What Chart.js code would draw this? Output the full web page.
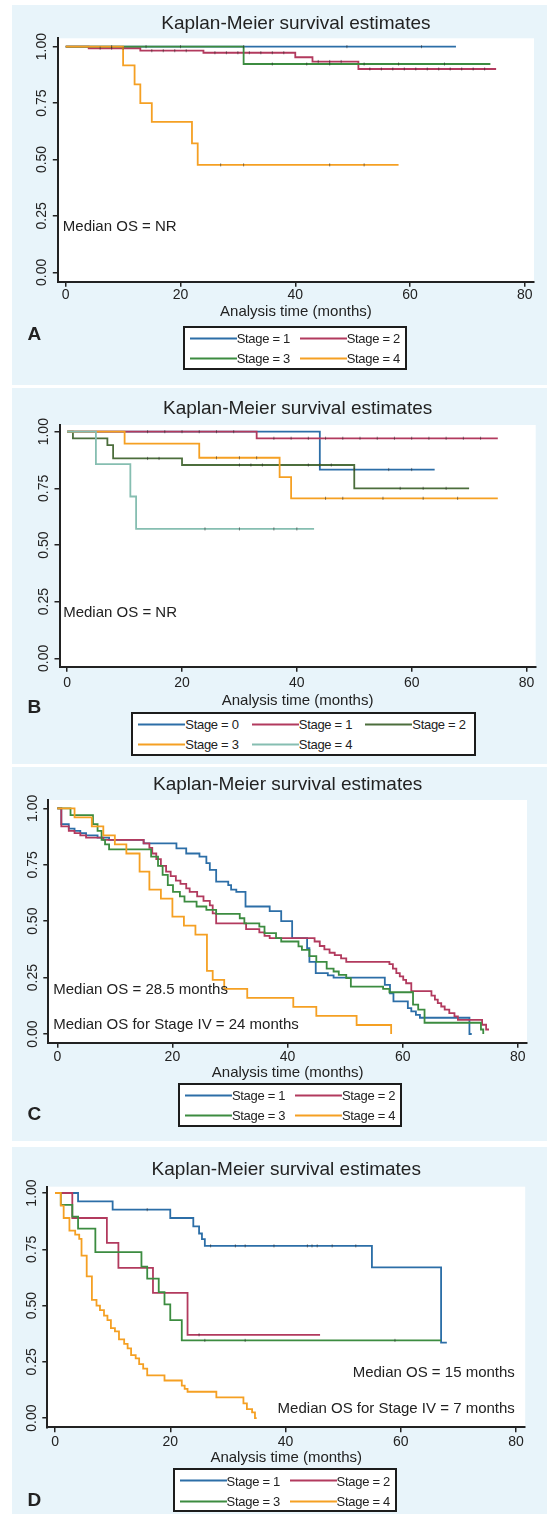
<!DOCTYPE html>
<html>
<head>
<meta charset="utf-8">
<script src="https://cdn.jsdelivr.net/npm/chart.js@4.4.1/dist/chart.umd.min.js"></script>
<style>
  html, body { margin: 0; padding: 0; background: #fff; }
  body { width: 549px; height: 1514px; position: relative; overflow: hidden;
         font-family: "Liberation Sans", Arial, sans-serif; color: #222; }
  .panel { position: absolute; left: 12px; width: 535px; background: #e8f4fa; }
  .panel canvas { position: absolute; left: 0; top: 0; }
  .letter { position: absolute; font-weight: bold; font-size: 19px; line-height: 1;
            transform: translate(-50%, -50%); }
  .key { position: absolute; box-sizing: border-box; border: 2px solid #1c1c1c; background: #fff; }
  .key .item { position: absolute; display: flex; align-items: center; font-size: 13px;
               letter-spacing: -0.3px; line-height: 1; white-space: nowrap; transform: translateY(-50%); }
  .key .swatch { display: inline-block; width: 47px; height: 2px; }
</style>
</head>
<body>
<script>
const chartTitle = "Kaplan-Meier survival estimates";
const xAxisTitle = "Analysis time (months)";
const xTicks = [0, 20, 40, 60, 80];
const yTicks = [0, 0.25, 0.5, 0.75, 1];

// A
const stagesA = ["Stage = 1", "Stage = 2", "Stage = 3", "Stage = 4"];
const a1 = [[0,1],[68,1]];
const a2 = [[0,1],[4,0.993],[13,0.982],[24,0.973],[40,0.953],[43,0.934],[51,0.901],[75,0.901]];
const a3 = [[0,1],[31,0.923],[74,0.923]];
const a4 = [[0,1],[10,0.917],[12,0.833],[13,0.75],[15,0.667],[22,0.571],[23,0.476],[58,0.476]];
// censoring times
const a1Cens = [14, 31, 49, 62];
const a2Cens = [6, 8, 10, 15, 17, 19, 21, 26, 28, 30, 32, 34, 36, 38, 44, 46, 48, 53, 55, 57, 59, 61, 63, 65, 67, 69, 71, 73];
const a3Cens = [8, 20, 36, 42, 46, 52, 58, 66];
const a4Cens = [27, 31, 46, 52];
const notesA = ["Median OS = NR"];

// B
const stagesB = ["Stage = 0", "Stage = 1", "Stage = 2", "Stage = 3", "Stage = 4"];
const b0 = [[0,1],[44,0.833],[64,0.833]];
const b1 = [[0,1],[33,0.971],[75,0.971]];
const b2 = [[0,1],[1,0.971],[7,0.941],[8,0.882],[20,0.853],[50,0.75],[70,0.75]];
const b3 = [[0,1],[10,0.947],[23,0.885],[37,0.80],[39,0.706],[75,0.706]];
const b4 = [[0,1],[5,0.857],[11,0.714],[12,0.571],[43,0.571]];
const b0Cens = [50, 56, 60];
const b1Cens = [14, 17, 20, 23, 26, 29, 36, 39, 42, 45, 48, 51, 54, 57, 60, 63, 66, 69, 72];
const b2Cens = [14, 16, 30, 32, 34, 42, 44, 46, 58, 62, 66];
const b3Cens = [26, 30, 33, 45, 48, 55, 62, 68];
const b4Cens = [24, 30, 36, 40];
const notesB = ["Median OS = NR"];

// C
const stagesC = ["Stage = 1", "Stage = 2", "Stage = 3", "Stage = 4"];
const c1 = [[0,1],[0.7,0.93],[2,0.91],[3,0.9],[4,0.89],[5,0.88],[7,0.87],[9,0.86],[15,0.845],[20.7,0.823],
  [22.4,0.80],[24.7,0.786],[25.9,0.757],[26.5,0.727],[27.6,0.675],[29.7,0.66],[30.2,0.64],[31.1,0.63],
  [32.7,0.565],[36.9,0.545],[38.9,0.50],[40.8,0.425],[43.4,0.38],[43.8,0.32],[44.9,0.27],[47,0.26],
  [48,0.25],[56.9,0.218],[57.8,0.18],[58.4,0.145],[60.9,0.115],[61.5,0.10],[62.3,0.085],[63,0.072],
  [71.6,0],[72,0]];
const c2 = [[0,1],[0.7,0.92],[2,0.90],[3,0.89],[4,0.88],[5,0.87],[8,0.86],[15,0.845],[16,0.825],
  [16.5,0.80],[17.2,0.775],[18,0.745],[18.9,0.72],[19.7,0.70],[20.6,0.68],[21.4,0.665],[22.4,0.645],
  [23,0.63],[24.3,0.61],[25.4,0.59],[26.5,0.57],[27,0.535],[27.6,0.49],[32.8,0.465],[35.1,0.45],
  [36,0.435],[36.9,0.425],[44.7,0.41],[45.6,0.39],[46.4,0.375],[47.3,0.36],[48.2,0.35],[49.3,0.335],
  [50.2,0.32],[57.7,0.31],[58.3,0.29],[58.9,0.27],[59.5,0.255],[60.1,0.24],[60.6,0.225],[61.5,0.19],
  [65,0.17],[65.6,0.152],[66.1,0.137],[66.7,0.122],[67.3,0.108],[68.1,0.093],[69,0.078],[69.6,0.063],
  [73.8,0.041],[74.5,0.02],[75,0.02]];
const c3 = [[0,1],[2.3,0.97],[6.2,0.93],[7,0.90],[7.7,0.86],[8.3,0.84],[9,0.818],[16.3,0.786],
  [17.5,0.745],[18.3,0.705],[19.2,0.66],[20.1,0.63],[21.3,0.61],[22.1,0.587],[24.2,0.565],[25.9,0.55],
  [27.6,0.532],[31.7,0.513],[32.5,0.49],[35.1,0.476],[36,0.447],[38,0.425],[38.9,0.41],[41.9,0.388],
  [42.5,0.373],[43.8,0.345],[45,0.32],[46.8,0.29],[48,0.277],[48.9,0.262],[50.2,0.248],[51,0.21],
  [56.6,0.2],[57.7,0.185],[61.8,0.13],[62.7,0.108],[63.8,0.05],[73.6,0.02],[74,0]];
const c4 = [[0,1],[3,0.96],[6,0.92],[8,0.88],[10,0.84],[12,0.80],[14.3,0.72],[16,0.64],[18,0.60],
  [20,0.52],[22,0.48],[24,0.44],[26,0.28],[27,0.24],[29,0.20],[33,0.16],[41,0.12],[45,0.08],
  [52,0.04],[58,0]];
const notesC = ["Median OS = 28.5 months", "Median OS for Stage IV = 24 months"];

// D
const stagesD = ["Stage = 1", "Stage = 2", "Stage = 3", "Stage = 4"];
const d1 = [[0,1],[4,0.963],[10,0.926],[20,0.889],[24,0.852],[25,0.82],[25.5,0.795],[26,0.765],
  [55,0.67],[67,0.335],[68,0.335]];
const d2 = [[0,1],[3,0.889],[9,0.778],[11,0.667],[17,0.556],[23,0.37],[46,0.37]];
const d3 = [[0,1],[1,0.947],[3,0.895],[4,0.842],[7,0.737],[15,0.673],[16,0.62],[18,0.56],[19,0.505],
  [20,0.435],[22,0.345],[67,0.345]];
const d4 = [[0,1],[1,0.944],[1.5,0.889],[2.5,0.833],[3.5,0.815],[4.2,0.796],[4.6,0.722],[5.5,0.63],
  [6.4,0.525],[7.2,0.5],[7.8,0.48],[8.5,0.455],[9.1,0.435],[9.7,0.40],[10.4,0.385],[11.1,0.35],
  [12,0.33],[12.6,0.31],[13.2,0.28],[14,0.265],[14.6,0.24],[15.3,0.22],[16,0.19],[19,0.167],
  [22,0.144],[22.5,0.13],[23,0.117],[28,0.092],[32.7,0.065],[33.3,0.04],[34.2,0.025],[34.7,0],[35,0]];
const d1Cens = [16, 27, 31.3, 33, 38, 43.8, 44.6, 45.5, 48.1, 52.2];
const d2Cens = [25];
const d3Cens = [26, 33, 59];
const notesD = ["Median OS = 15 months", "Median OS for Stage IV = 7 months"];

const ink = "#222";
const family = '"Liberation Sans", Arial, sans-serif';
const blue = "#2c6ea7", maroon = "#b23a5e", green = "#3c8c40", orange = "#f5a023",
      dkgreen = "#4c6e3c", teal = "#86beb1";

// layout of each panel (page px / canvas px)
const panels = [
  { letter: "A", top: 5, height: 380, area: {l: 45.8, t: 33.3, r: 522, b: 276.7},
    x: [-1.38, 81.6], y: [-0.0417, 1.037], titleY: 19, tickPad: 0, scaleH: 39.6,
    series: [a1, a2, a3, a4], cens: [a1Cens, a2Cens, a3Cens, a4Cens], names: stagesA,
    colors: [blue, maroon, green, orange],
    notes: [{text: notesA[0], x: -0.5, y: 0.2, align: "left"}],
    key: {left: 182.7, top: 325.7, w: 224.6, h: 44.3, cols: 2, pitch: 110}, mark: {x: 34.3, y: 333.3} },
  { letter: "B", top: 388, height: 376, area: {l: 47.5, t: 37, r: 523.7, b: 278.7},
    x: [-1.34, 81.6], y: [-0.037, 1.0296], titleY: 20.3, tickPad: 3.3, scaleH: 43,
    series: [b0, b1, b2, b3, b4], cens: [b0Cens, b1Cens, b2Cens, b3Cens, b4Cens], names: stagesB,
    colors: [blue, maroon, dkgreen, orange, teal],
    notes: [{text: notesB[0], x: -0.7, y: 0.2, align: "left"}],
    key: {left: 131.3, top: 711.7, w: 345, h: 44.3, cols: 3, pitch: 113.5}, mark: {x: 34.3, y: 705.7} },
  { letter: "C", top: 767, height: 374, area: {l: 36.3, t: 33, r: 515, b: 275.7},
    x: [-1.56, 81.6], y: [-0.0385, 1.037], titleY: 18, tickPad: 0.6, scaleH: 39.6,
    series: [c1, c2, c3, c4], cens: [[], [], [], []], names: stagesC,
    colors: [blue, maroon, green, orange],
    notes: [{text: notesC[0], x: -0.7, y: 0.195, align: "left"},
            {text: notesC[1], x: -0.7, y: 0.04, align: "left"}],
    key: {left: 177.9, top: 1082.7, w: 224.1, h: 44, cols: 2, pitch: 110}, mark: {x: 34.3, y: 1113.3} },
  { letter: "D", top: 1147, height: 367, area: {l: 35.3, t: 39.7, r: 513.2, b: 280.3},
    x: [-1.34, 81.6], y: [-0.041, 1.028], titleY: 23, tickPad: 1, scaleH: 40,
    series: [d1, d2, d3, d4], cens: [d1Cens, d2Cens, d3Cens, []], names: stagesD,
    colors: [blue, maroon, green, orange],
    notes: [{text: notesD[0], x: 79.8, y: 0.199, align: "right"},
            {text: notesD[1], x: 79.8, y: 0.043, align: "right"}],
    key: {left: 172.6, top: 1468.3, w: 224.1, h: 43.4, cols: 2, pitch: 110}, mark: {x: 34.3, y: 1499.3} }
];

// survival level of a step curve at time t
function levelAt(series, t) {
  let v = series[0][1];
  series.forEach(([x, y]) => { if (x <= t) v = y; });
  return v;
}

// white plot region
const plotBg = {
  id: "plotBg",
  beforeDraw(chart) {
    const {ctx, chartArea: a} = chart;
    ctx.save();
    ctx.fillStyle = "#fff";
    ctx.fillRect(a.left, a.top, a.right - a.left, a.bottom - a.top);
    ctx.restore();
  }
};

// text notes placed at data coordinates
const notesPlugin = {
  id: "notes",
  afterDatasetsDraw(chart, args, opts) {
    const {ctx, scales} = chart;
    ctx.save();
    ctx.font = "15px " + family;
    ctx.fillStyle = ink;
    ctx.textBaseline = "middle";
    (opts.items || []).forEach(n => {
      ctx.textAlign = n.align;
      ctx.fillText(n.text, scales.x.getPixelForValue(n.x), scales.y.getPixelForValue(n.y));
    });
    ctx.restore();
  }
};

const axisGrid = { drawOnChartArea: false, drawTicks: true, tickLength: 5, color: ink, lineWidth: 1.5 };
const axisBorder = { display: true, color: ink, width: 2 };

panels.forEach(p => {
  const div = document.createElement("div");
  div.className = "panel";
  div.style.top = p.top + "px";
  div.style.height = p.height + "px";
  const canvas = document.createElement("canvas");
  canvas.width = 535;
  canvas.height = p.height;
  div.appendChild(canvas);
  document.body.appendChild(div);

  const curves = p.series.map((s, i) => ({
    label: p.names[i],
    data: s.map(([t, v]) => ({x: t, y: v})),
    borderColor: p.colors[i],
    borderWidth: 1.8,
    pointRadius: 0,
    stepped: "before",
    fill: false,
    order: 20 - i
  }));
  const marks = p.cens.map((ts, i) => ({
    label: p.names[i] + " censored",
    data: ts.map(t => ({x: t, y: levelAt(p.series[i], t)})),
    showLine: false,
    pointStyle: "line",
    rotation: 90,
    pointRadius: 1.6,
    pointBorderWidth: 1,
    pointBorderColor: "rgba(30,30,30,0.5)",
    order: 1
  }));

  const a = p.area;
  new Chart(canvas, {
    type: "line",
    data: { datasets: curves.concat(marks) },
    options: {
      responsive: false,
      animation: false,
      events: [],
      layout: { padding: { left: a.l - 40, right: 535 - a.r, top: 0, bottom: p.height - a.b - p.scaleH } },
      plugins: {
        legend: { display: false },
        tooltip: { enabled: false },
        title: {
          display: true, text: chartTitle, fullSize: false, color: ink,
          font: { family, size: 19, weight: "normal" },
          padding: { top: p.titleY - 11.4, bottom: a.t - p.titleY - 11.4 }
        },
        notes: { items: p.notes }
      },
      scales: {
        x: {
          type: "linear", min: p.x[0], max: p.x[1],
          afterBuildTicks: s => { s.ticks = xTicks.map(v => ({value: v})); },
          afterFit: s => { s.height = p.scaleH; },
          ticks: { color: ink, font: { family, size: 14 }, padding: p.tickPad, maxRotation: 0, autoSkip: false },
          grid: axisGrid,
          border: axisBorder,
          title: { display: true, text: xAxisTitle, color: ink, font: { family, size: 15 }, padding: { top: 0, bottom: 0 } }
        },
        y: {
          type: "linear", min: p.y[0], max: p.y[1],
          afterBuildTicks: s => { s.ticks = yTicks.map(v => ({value: v})); },
          afterFit: s => { s.width = 40; },
          ticks: { color: ink, font: { family, size: 14 }, padding: -3, minRotation: 90, maxRotation: 90,
                   crossAlign: "center", autoSkip: false, callback: v => v.toFixed(2) },
          grid: axisGrid,
          border: axisBorder
        }
      }
    },
    plugins: [plotBg, notesPlugin]
  });

  // panel letter
  const m = document.createElement("div");
  m.className = "letter";
  m.textContent = p.letter;
  m.style.left = p.mark.x + "px";
  m.style.top = p.mark.y + "px";
  document.body.appendChild(m);

  // legend box
  const k = p.key;
  const key = document.createElement("div");
  key.className = "key";
  Object.assign(key.style, { left: k.left + "px", top: k.top + "px", width: k.w + "px", height: k.h + "px" });
  p.names.forEach((name, i) => {
    const row = Math.floor(i / k.cols), col = i % k.cols;
    const item = document.createElement("div");
    item.className = "item";
    item.style.left = (5 + col * k.pitch) + "px";
    item.style.top = (10.5 + row * 20.3) + "px";
    const sw = document.createElement("span");
    sw.className = "swatch";
    sw.style.background = p.colors[i];
    const tx = document.createElement("span");
    tx.textContent = name;
    item.appendChild(sw);
    item.appendChild(tx);
    key.appendChild(item);
  });
  document.body.appendChild(key);
});
</script>
</body>
</html>
